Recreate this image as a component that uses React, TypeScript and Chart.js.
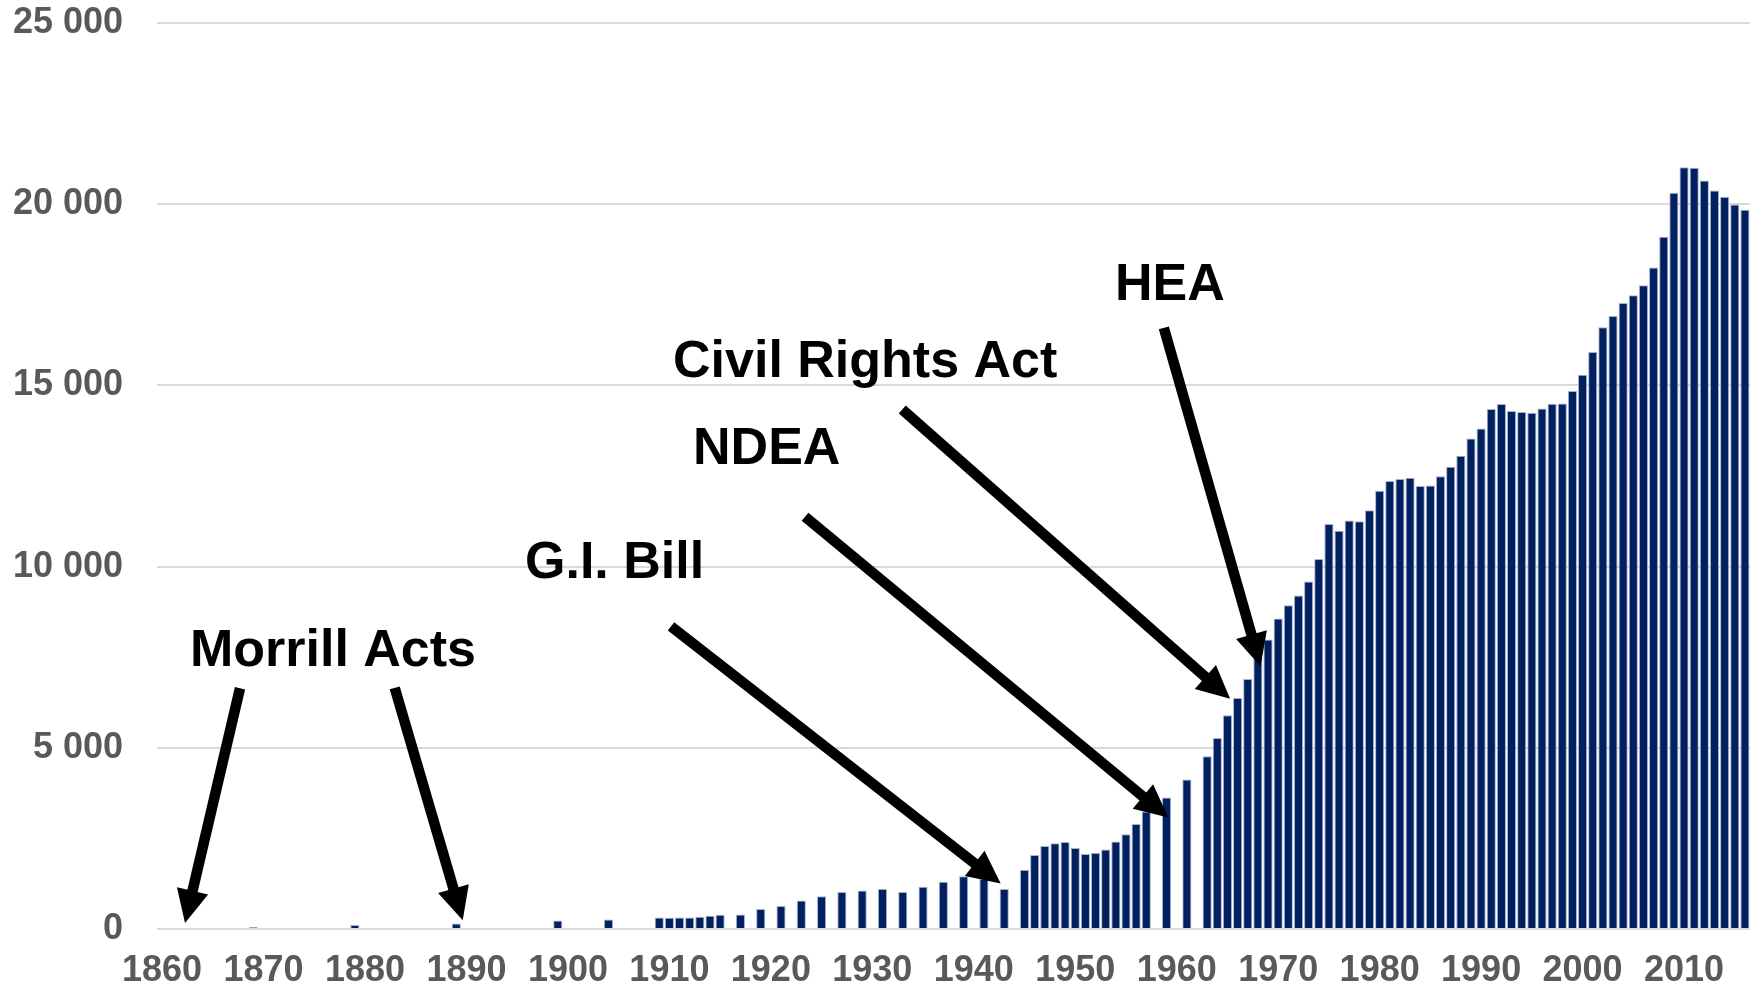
import React, { useEffect, useRef } from "react";
import { Chart, registerables } from "chart.js";

Chart.register(...registerables);

// Category axis: every year from 1860 to 2016
const firstYear = 1860;
const lastYear = 2016;
const categoryYears: number[] = [];
for (let y = firstYear; y <= lastYear; y++) categoryYears.push(y);

// Observed years (fall enrollment, thousands)
const earlyYears = [1869, 1879, 1889, 1899, 1904];
const earlyValues = [50, 110, 155, 235, 260];

const prewarYears = [1909, 1910, 1911, 1912, 1913, 1914, 1915, 1917, 1919, 1921, 1923, 1925, 1927, 1929, 1931, 1933, 1935, 1937, 1939, 1941, 1943];
const prewarValues = [320, 310, 315, 315, 340, 365, 395, 400, 555, 635, 783, 902, 1022, 1059, 1105, 1022, 1169, 1307, 1455, 1385, 1105];

const postwarYears = [1945, 1946, 1947, 1948, 1949, 1950, 1951, 1952, 1953, 1954, 1955, 1956, 1957, 1959, 1961];
const postwarValues = [1630, 2044, 2293, 2367, 2403, 2238, 2072, 2099, 2191, 2412, 2615, 2895, 3245, 3627, 4124];

const modernYears = [
  1963, 1964, 1965, 1966, 1967, 1968, 1969, 1970, 1971, 1972, 1973, 1974, 1975, 1976, 1977, 1978, 1979,
  1980, 1981, 1982, 1983, 1984, 1985, 1986, 1987, 1988, 1989, 1990, 1991, 1992, 1993, 1994, 1995, 1996,
  1997, 1998, 1999, 2000, 2001, 2002, 2003, 2004, 2005, 2006, 2007, 2008, 2009, 2010, 2011, 2012, 2013,
  2014, 2015, 2016,
];
const modernValues = [
  4765, 5270, 5900, 6375, 6900, 7500, 7985, 8570, 8935, 9205, 9590, 10210, 11175, 10990, 11275, 11250, 11555,
  12090, 12360, 12415, 12455, 12225, 12240, 12490, 12755, 13058, 13536, 13812, 14348, 14486, 14295, 14265, 14246, 14365,
  14494, 14500, 14845, 15296, 15922, 16602, 16917, 17276, 17486, 17762, 18251, 19099, 20315, 21022, 21004, 20655, 20378,
  20204, 19992, 19845,
];

const yTicks = [0, 5000, 10000, 15000, 20000, 25000];

// Annotations (positions in year / enrollment units)
const labelTexts = ["Morrill Acts", "G.I. Bill", "NDEA", "Civil Rights Act", "HEA"];
const labelYears = [1862.75, 1895.77, 1912.33, 1910.36, 1953.92];
const labelValues = [7249, 9677, 12823, 15224, 17348];

const arrowTailYears = [1867.68, 1882.93, 1910.16, 1923.37, 1932.95, 1958.73];
const arrowTailValues = [6643, 6653, 8353, 11374, 14335, 16587];
const arrowTipYears = [1862.26, 1889.63, 1942.65, 1959.17, 1965.26, 1968.26];
const arrowTipValues = [166, 240, 1253, 3074, 6352, 7249];

const FONT = '"Liberation Sans", Arial, sans-serif';
const CLEAR = "rgba(0,0,0,0)";

function buildSeries(): (number | null)[] {
  const map = new Map<number, number>();
  const add = (ys: number[], vs: number[]) => ys.forEach((y, i) => map.set(y, vs[i]));
  add(earlyYears, earlyValues);
  add(prewarYears, prewarValues);
  add(postwarYears, postwarValues);
  add(modernYears, modernValues);
  return categoryYears.map((y) => (map.has(y) ? (map.get(y) as number) : null));
}

const annotationPlugin = {
  id: "eventAnnotations",
  afterDatasetsDraw(chart: any) {
    const { ctx, scales } = chart;
    const xs = scales.x;
    const ys = scales.y;
    const px = (year: number) => xs.getPixelForValue(year - firstYear);
    const py = (v: number) => ys.getPixelForValue(v);
    ctx.save();
    ctx.fillStyle = "#000";
    ctx.strokeStyle = "#000";
    ctx.font = `bold 52px ${FONT}`;
    ctx.textAlign = "left";
    ctx.textBaseline = "alphabetic";
    labelTexts.forEach((t, i) => {
      ctx.fillText(t, px(labelYears[i]), py(labelValues[i]));
    });
    const headLen = 33;
    const headHalf = 16;
    arrowTailYears.forEach((_, i) => {
      const x1 = px(arrowTailYears[i]);
      const y1 = py(arrowTailValues[i]);
      const x2 = px(arrowTipYears[i]);
      const y2 = py(arrowTipValues[i]);
      const dx = x2 - x1;
      const dy = y2 - y1;
      const len = Math.hypot(dx, dy);
      const ux = dx / len;
      const uy = dy / len;
      const bx = x2 - ux * headLen;
      const by = y2 - uy * headLen;
      ctx.lineWidth = 10.5;
      ctx.lineCap = "butt";
      ctx.beginPath();
      ctx.moveTo(x1, y1);
      ctx.lineTo(bx + ux * 2, by + uy * 2);
      ctx.stroke();
      ctx.beginPath();
      ctx.moveTo(x2, y2);
      ctx.lineTo(bx - uy * headHalf, by + ux * headHalf);
      ctx.lineTo(bx + uy * headHalf, by - ux * headHalf);
      ctx.closePath();
      ctx.fill();
    });
    ctx.restore();
  },
};

export default function App() {
  const canvasRef = useRef<HTMLCanvasElement | null>(null);

  useEffect(() => {
    document.body.style.margin = "0";
    const canvas = canvasRef.current;
    if (!canvas) return;
    const chart = new Chart(canvas, {
      type: "bar",
      data: {
        labels: categoryYears.map(String),
        datasets: [
          {
            data: buildSeries(),
            backgroundColor: "#002060",
            borderColor: "#a7b1cc",
            borderWidth: 1,
            barPercentage: 0.9,
            categoryPercentage: 1.0,
          },
        ],
      },
      options: {
        responsive: false,
        animation: false,
        layout: { autoPadding: true, padding: { left: 13, right: 3, top: 23, bottom: 0 } },
        plugins: {
          legend: { display: false },
          tooltip: { enabled: false },
          title: { display: false },
        },
        scales: {
          x: {
            type: "category",
            grid: { display: true, color: CLEAR, drawTicks: true, tickLength: 20, tickColor: CLEAR },
            border: { display: false },
            afterFit: (scale: any) => {
              scale.height = 62;
            },
            ticks: {
              autoSkip: false,
              maxRotation: 0,
              minRotation: 0,
              padding: 0,
              color: "#595959",
              font: { family: FONT, size: 36, weight: "bold" },
              callback: (_v: any, idx: number) =>
                categoryYears[idx] % 10 === 0 ? String(categoryYears[idx]) : "",
            },
          },
          y: {
            min: yTicks[0],
            max: yTicks[yTicks.length - 1],
            afterBuildTicks: (scale: any) => {
              scale.ticks = yTicks.map((v) => ({ value: v }));
            },
            afterFit: (scale: any) => {
              scale.width = 144;
            },
            grid: { color: "#d9d9d9", lineWidth: 2, drawTicks: true, tickLength: 34, tickColor: CLEAR },
            border: { display: false },
            ticks: {
              padding: 0,
              color: "#595959",
              font: { family: FONT, size: 36, weight: "bold" },
              callback: (v: any) => String(v).replace(/\B(?=(\d{3})+(?!\d))/g, " "),
            },
          },
        },
      },
      plugins: [annotationPlugin],
    });
    return () => chart.destroy();
  }, []);

  return (
    <div style={{ position: "fixed", left: 0, top: 0, width: 1753, height: 991, background: "#fff" }}>
      <canvas ref={canvasRef} width={1753} height={991} style={{ width: 1753, height: 991 }} />
    </div>
  );
}
